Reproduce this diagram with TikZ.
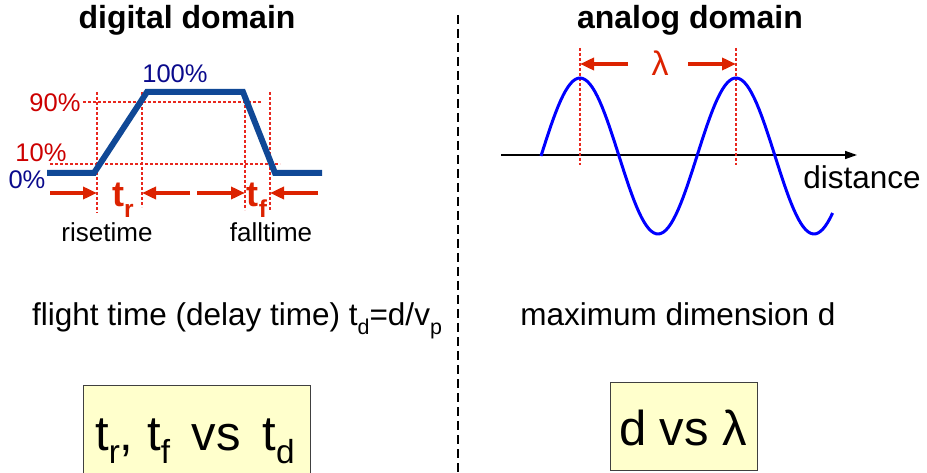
\documentclass[tikz,border=0pt]{standalone}
\usepackage{fontspec}
\setmainfont{Liberation Sans}
\usetikzlibrary{arrows.meta}
\definecolor{pulseblue}{RGB}{16,72,150}
\definecolor{labelblue}{RGB}{10,10,140}
\definecolor{thinred}{RGB}{232,40,30}
\definecolor{arrowred}{RGB}{220,34,0}
\definecolor{labelred}{RGB}{204,0,0}
\definecolor{boxyellow}{RGB}{255,255,204}
\newcommand{\lowsub}[1]{\raisebox{-0.28em}{\scalebox{0.68}{#1}}}
\tikzset{
  lbl/.style={font=\fontsize{25.5}{30}\selectfont},
  txt/.style={font=\fontsize{31.5}{36}\selectfont},
  title/.style={font=\fontsize{32}{36}\selectfont\bfseries},
  big/.style={font=\fontsize{49}{56}\selectfont},
  pulse/.style={draw=pulseblue, line width=6pt, line join=miter},
  thres/.style={draw=thinred, line width=1.1pt, dash pattern=on 3pt off 2pt},
  redarrow/.style={draw=arrowred, line width=3.5pt, -{Triangle[length=14pt,width=12pt]}},
  answerbox/.style={draw=black!75, fill=boxyellow, line width=1pt}
}
\begin{document}
\begin{tikzpicture}[x=1pt,y=-1pt]
  \useasboundingbox (0,0) rectangle (927,473);
  \clip (0,0) rectangle (927,473);
  % separator
  \draw[line width=2pt, dash pattern=on 9pt off 5pt] (458,15) -- (458,473);
  \node[title] (digtitle) at (187,20) {digital domain};
  \node[title] (anatitle) at (690,20) {analog domain};

  % digital pulse
  \coordinate (p0) at (47,173);
  \coordinate (p1) at (94,173);
  \coordinate (p2) at (147,92);
  \coordinate (p3) at (243,92);
  \coordinate (p4) at (275,173);
  \coordinate (p5) at (322,173);
  \draw[thres] (83,102) -- (262,102);
  \draw[thres] (50,164) -- (280,164);
  \draw[thres] (97,92) -- (97,213);
  \draw[thres] (142,92) -- (142,207);
  \draw[thres] (245,100) -- (245,210);
  \draw[thres] (270,92) -- (270,210);
  \draw[pulse] (p0) -- (p1) -- (p2) -- (p3) -- (p4) -- (p5);
  \node[lbl, text=labelblue] (full) at (175,74) {100\%};
  \node[lbl, text=labelred] (ninety) at (55,103) {90\%};
  \node[lbl, text=labelred] (ten) at (41,153) {10\%};
  \node[lbl, text=labelblue] (zero) at (27,180) {0\%};

  % rise and fall time
  \coordinate (ra) at (50,193);
  \coordinate (rb) at (97,193);
  \coordinate (rc) at (190,193);
  \coordinate (rd) at (142,193);
  \coordinate (fa) at (197,193);
  \coordinate (fb) at (245,193);
  \coordinate (fc) at (318,193);
  \coordinate (fd) at (270,193);
  \draw[redarrow] (ra) -- (rb);
  \draw[redarrow] (rc) -- (rd);
  \draw[redarrow] (fa) -- (fb);
  \draw[redarrow] (fc) -- (fd);
  \node[font=\fontsize{36}{40}\selectfont\bfseries, text=arrowred, anchor=base] (tr) at (123,207) {t\lowsub{r}};
  \node[font=\fontsize{36}{40}\selectfont\bfseries, text=arrowred, anchor=base] (tf) at (257,207) {t\lowsub{f}};
  \node[font=\fontsize{26}{30}\selectfont] (rise) at (107,232) {risetime};
  \node[font=\fontsize{26}{30}\selectfont] (fall) at (271,232) {falltime};

  \node[txt, anchor=base] (flight) at (237,326) {flight time (delay time) t\lowsub{d}=d/v\lowsub{p}};

  % analog wave
  \coordinate (ax0) at (501,155);
  \coordinate (ax1) at (857,155);
  \draw[line width=1.5pt, -{Triangle[length=12pt,width=8pt]}] (ax0) -- (ax1);
  \draw[thres] (580,48) -- (580,165);
  \draw[thres] (736,48) -- (736,165);
  \draw[blue, line width=3pt] plot[domain=0:673, samples=120] ({541+\x/360*156}, {156-78*sin(\x)});
  \coordinate (la) at (628,64);
  \coordinate (lb) at (580,64);
  \coordinate (lc) at (688,64);
  \coordinate (ld) at (736,64);
  \draw[redarrow] (la) -- (lb);
  \draw[redarrow] (lc) -- (ld);
  \node[font=\fontsize{34}{38}\selectfont, text=arrowred] (lambda) at (660,63) {λ};
  \node[txt] (dist) at (862,177) {distance};

  \node[txt, anchor=base] (maxdim) at (678,326) {maximum dimension d};

  % comparison boxes
  \draw[answerbox] (83,480) -- (83,385) -- (310,385) -- (310,480);
  \node[big, anchor=base] (cmpt) at (195,450) {t\lowsub{r}, t\lowsub{f}\, vs\, t\lowsub{d}};
  \draw[answerbox] (610,382) rectangle (757,470);
  \node[big, anchor=base] (cmpd) at (683,445) {d vs λ};
\end{tikzpicture}
\end{document}
